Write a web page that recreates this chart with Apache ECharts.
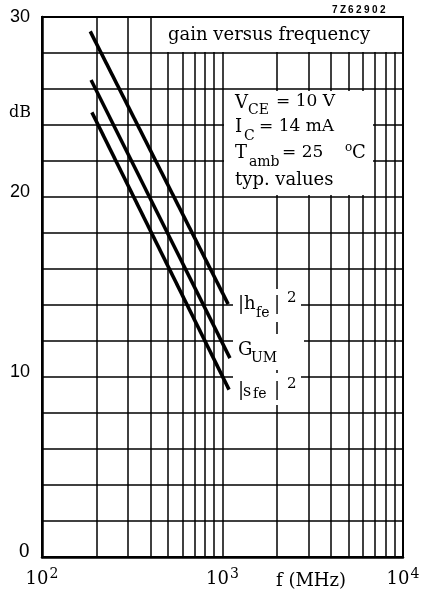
<!DOCTYPE html>
<html>
<head>
<meta charset="utf-8">
<script src="https://cdn.jsdelivr.net/npm/echarts@6/dist/echarts.min.js"></script>
<style>
html,body{margin:0;padding:0;background:#fff;}
#c{width:423px;height:598px;}
</style>
</head>
<body>
<div id="c"></div>
<script>
// ---- data ----
const hfeFreq = [185, 1075];
const hfeGain = [29.2, 14.05];
const gumFreq = [187, 1100];
const gumGain = [26.5, 11.05];
const sfeFreq = [189, 1087];
const sfeGain = [24.7, 9.3];
const minorFreqs = [200, 300, 400, 500, 600, 700, 800, 900, 2000, 3000, 4000, 5000, 6000, 7000, 8000, 9000];
const yLabelValues = [0, 10, 20, 30];
const xMin = 100, xMax = 10000, yMin = 0, yMax = 30, yStep = 2;

const SERIF = '"DejaVu Serif", "Liberation Serif", serif';
const SANS = '"Liberation Sans", "DejaVu Sans", sans-serif';

function pairs(f, g) { return f.map((v, i) => [v, g[i]]); }

function txt(x, y, text, size, font) {
  return {
    type: 'text', x: x, y: y, z: 110,
    style: {
      text: text, fill: '#000',
      font: font || (size + 'px ' + SERIF),
      textVerticalAlign: 'middle', verticalAlign: 'middle', textAlign: 'left', align: 'left'
    }
  };
}
function box(x1, y1, x2, y2) {
  return { type: 'rect', z: 100, shape: { x: x1, y: y1, width: x2 - x1, height: y2 - y1 }, style: { fill: '#fff' } };
}

const graphics = [
  // white backgrounds for annotations
  box(154, 18, 401, 52),
  box(224, 91, 373, 195),
  box(233, 289, 301, 322),
  box(233, 334, 304, 370),
  box(233, 373, 301, 405),
  // title
  txt(168, 35, 'gain versus frequency', 18),
  // parameters
  txt(235, 103, 'V', 18), txt(248, 110, 'CE', 14), txt(276, 102, '= 10 V', 17),
  txt(235, 127, 'I', 18), txt(244, 136, 'C', 14), txt(259, 127, '= 14 mA', 17),
  txt(235, 153, 'T', 18), txt(249, 162, 'amb', 14), txt(282, 153, '= 25', 17),
  txt(345, 148, 'o', 12), txt(352, 153, 'C', 18),
  txt(235, 180, 'typ. values', 18),
  // curve labels
  txt(238, 304, '|h', 18), txt(256, 313, 'fe', 14), txt(274, 304, '|', 18), txt(287, 298, '2', 15),
  txt(238, 350, 'G', 18), txt(251, 358, 'UM', 14),
  txt(238, 390, '|', 18), txt(243, 392, 's', 16), txt(253, 394, 'fe', 14), txt(274, 390, '|', 18), txt(287, 384, '2', 15),
  // axis titles
  txt(9, 113, 'dB', 16),
  txt(276, 581, 'f (MHz)', 18)
];
// drawing number, spaced characters
'7Z62902'.split('').forEach((ch, i) => {
  graphics.push(txt(332 + i * 8, 10, ch, 10, 'bold 10px ' + SANS));
});

const gridLine = { color: '#000', width: 1.5 };

const chart = echarts.init(document.getElementById('c'), null, { renderer: 'canvas' });
chart.setOption({
  animation: false,
  backgroundColor: '#fff',
  grid: { left: 42, top: 17, width: 361, height: 540, show: true, borderColor: '#000', borderWidth: 2, backgroundColor: 'transparent' },
  xAxis: {
    type: 'log', logBase: 10, min: xMin, max: xMax,
    axisLine: { show: true, lineStyle: { color: '#000', width: 2.5 } },
    axisTick: { show: false },
    splitLine: { show: true, lineStyle: gridLine },
    axisLabel: {
      margin: 10,
      formatter: v => '{b|10}{s|' + Math.round(Math.log10(v)) + '}',
      rich: {
        b: { fontFamily: SERIF, fontSize: 18, color: '#000' },
        s: { fontFamily: SERIF, fontSize: 14, color: '#000', padding: [0, 0, 10, 1] }
      }
    }
  },
  yAxis: {
    type: 'value', min: yMin, max: yMax, interval: yStep,
    axisLine: { show: true, lineStyle: { color: '#000', width: 2.5 } },
    axisTick: { show: false },
    splitLine: { show: true, lineStyle: gridLine },
    axisLabel: {
      margin: 12,
      formatter: v => yLabelValues.indexOf(v) >= 0 ? (v === 0 ? '{r|0}' : (v === 30 ? '{t|30}' : '{n|' + v + '}')) : '',
      rich: {
        r: { fontFamily: SERIF, fontSize: 18, color: '#000', padding: [0, 0, 10, 0] },
        n: { fontFamily: SANS, fontSize: 18, color: '#000', padding: [0, 0, 10, 0] },
        t: { fontFamily: SANS, fontSize: 18, color: '#000' }
      }
    }
  },
  series: [
    {
      type: 'line', data: [], silent: true, z: 1,
      markLine: {
        silent: true, symbol: 'none', label: { show: false },
        lineStyle: { color: '#000', width: 1.5, type: 'solid' },
        data: minorFreqs.map(f => ({ xAxis: f }))
      }
    },
    { name: '|hfe|2', type: 'line', data: pairs(hfeFreq, hfeGain), showSymbol: false, z: 5, lineStyle: { color: '#000', width: 3.5 } },
    { name: 'GUM', type: 'line', data: pairs(gumFreq, gumGain), showSymbol: false, z: 5, lineStyle: { color: '#000', width: 3.5 } },
    { name: '|sfe|2', type: 'line', data: pairs(sfeFreq, sfeGain), showSymbol: false, z: 5, lineStyle: { color: '#000', width: 3.5 } }
  ],
  graphic: { elements: graphics }
});
</script>
</body>
</html>
